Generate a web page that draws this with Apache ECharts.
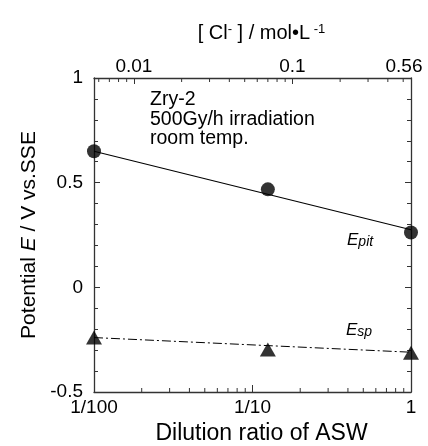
<!DOCTYPE html>
<html>
<head>
<meta charset="utf-8">
<script src="https://cdn.jsdelivr.net/npm/echarts@6/dist/echarts.min.js"></script>
<style>
html,body{margin:0;padding:0;background:#fff;}
#chart{width:428px;height:446px;}
</style>
</head>
<body>
<div id="chart"></div>
<script>
// ---- data ----
const dilution = [0.01, 0.125, 1];
const Epit = [0.65, 0.468, 0.262];
const Esp = [-0.24, -0.297, -0.313];
// fitted trend lines (endpoints)
const EpitFitX = [0.01, 1];
const EpitFitY = [0.65, 0.275];
const EspFitX = [0.01, 1];
const EspFitY = [-0.24, -0.31];
// axis ticks / labels
const bottomTickLabels = {0.01: '1/100', 0.1: '1/10', 1: '1'};
const topTickLabels = [0.01, 0.1, 0.56];
const bottomMinorTicks = [0.02,0.03,0.04,0.05,0.06,0.07,0.08,0.09,0.2,0.3,0.4,0.5,0.6,0.7,0.8,0.9];
const topMinorTicks = [0.006,0.007,0.008,0.009,0.02,0.03,0.04,0.05,0.06,0.07,0.08,0.09,0.2,0.3,0.4,0.5];
const yMin = -0.5, yMax = 1, yInterval = 0.5;
const clMin = 0.0056, clMax = 0.56;

const FONT = '"Liberation Sans", Arial, Helvetica, sans-serif';
const AX = '#333';

const chart = echarts.init(document.getElementById('chart'), null, {renderer: 'canvas'});

function minorTickSeries(xIdx, values, yVal, dir) {
  return {
    type: 'custom',
    coordinateSystem: 'cartesian2d',
    xAxisIndex: xIdx,
    yAxisIndex: 0,
    silent: true,
    clip: false,
    z: 5,
    data: values.map(v => [v, yVal]),
    renderItem: function (params, api) {
      const p = api.coord([api.value(0), api.value(1)]);
      return {
        type: 'line',
        shape: {x1: p[0], y1: p[1], x2: p[0], y2: p[1] + dir * 4},
        style: {stroke: AX, lineWidth: 1}
      };
    }
  };
}

const option = {
  backgroundColor: '#fff',
  animation: false,
  textStyle: {fontFamily: FONT, color: '#000'},
  grid: {left: 94, right: 17, top: 78, bottom: 54, containLabel: false, outerBoundsMode: 'none'},
  xAxis: [
    {
      type: 'log', logBase: 10, min: 0.01, max: 1, position: 'bottom',
      axisLine: {show: true, onZero: false, lineStyle: {color: AX, width: 1.3}},
      axisTick: {show: true, inside: true, length: 7, lineStyle: {color: AX, width: 1}},
      axisLabel: {
        show: true, margin: 6, fontSize: 19, fontFamily: FONT, color: '#000',
        showMinLabel: true, showMaxLabel: true,
        formatter: function (v) { const r = +(+v).toPrecision(3); return bottomTickLabels[r] || ''; }
      },
      splitLine: {show: false},
      name: 'Dilution ratio of ASW', nameLocation: 'middle', nameGap: 28,
      nameTextStyle: {fontSize: 23, fontFamily: FONT, color: '#000', padding: [0, 0, 0, 18]}
    },
    {
      type: 'log', logBase: 10, min: clMin, max: clMax, position: 'top',
      axisLine: {show: true, onZero: false, lineStyle: {color: AX, width: 1.3}},
      axisTick: {show: true, inside: true, length: 6, lineStyle: {color: AX, width: 1},
        interval: function (i, v) { const r = +(+v).toPrecision(2); return r === 0.01 || r === 0.1; }},
      axisLabel: {
        show: true, margin: 2, fontSize: 19, fontFamily: FONT, color: '#000',
        showMinLabel: true, showMaxLabel: true,
        formatter: function (v) {
          const r = +(+v).toPrecision(2);
          if (r === 0.56) return '{r|0.56}';
          return topTickLabels.indexOf(r) >= 0 ? String(r) : '';
        },
        rich: {r: {fontSize: 19, fontFamily: FONT, color: '#000', padding: [0, 14, 0, 0]}}
      },
      splitLine: {show: false},
      name: '[ Cl{sup|-} ] / mol•L{sup| -1}', nameLocation: 'middle', nameGap: 34,
      nameTextStyle: {
        fontSize: 20, fontFamily: FONT, color: '#000', padding: [0, 0, 0, 18],
        rich: {sup: {fontSize: 13, fontFamily: FONT, color: '#000', verticalAlign: 'top', padding: [0, 0, 8, 0]}}
      }
    }
  ],
  yAxis: [
    {
      type: 'value', min: yMin, max: yMax, interval: yInterval, position: 'left',
      axisLine: {show: true, onZero: false, lineStyle: {color: AX, width: 1.3}},
      axisTick: {show: true, inside: true, length: 6, lineStyle: {color: AX, width: 1}},
      minorTick: {show: true, splitNumber: 5, length: 4, lineStyle: {color: AX, width: 1}},
      axisLabel: {show: true, margin: 11, fontSize: 19, fontFamily: FONT, color: '#000'},
      splitLine: {show: false},
      name: 'Potential {i|E} / V vs.SSE', nameLocation: 'middle', nameGap: 38, nameRotate: 90,
      nameTextStyle: {
        fontSize: 21, fontFamily: FONT, color: '#000',
        rich: {i: {fontSize: 21, fontFamily: FONT, fontStyle: 'italic', color: '#000'}}
      }
    },
    {
      type: 'value', min: yMin, max: yMax, interval: yInterval, position: 'right',
      axisLine: {show: true, onZero: false, lineStyle: {color: AX, width: 1.3}},
      axisTick: {show: true, inside: true, length: 6, lineStyle: {color: AX, width: 1}},
      minorTick: {show: true, splitNumber: 5, length: 4, lineStyle: {color: AX, width: 1}},
      axisLabel: {show: false},
      splitLine: {show: false}
    }
  ],
  series: [
    {
      type: 'line', xAxisIndex: 0, yAxisIndex: 0, symbol: 'none', silent: true, z: 3,
      data: EpitFitX.map((x, i) => [x, EpitFitY[i]]),
      lineStyle: {color: '#000', width: 1.1, type: 'solid'}
    },
    {
      type: 'line', xAxisIndex: 0, yAxisIndex: 0, symbol: 'none', silent: true, z: 3,
      data: EspFitX.map((x, i) => [x, EspFitY[i]]),
      lineStyle: {color: '#000', width: 1, type: [9, 3, 2, 3]}
    },
    {
      type: 'scatter', xAxisIndex: 0, yAxisIndex: 0, symbol: 'circle', symbolSize: 14, z: 4, clip: false,
      itemStyle: {color: '#000'},
      data: dilution.map((x, i) => [x, Epit[i]])
    },
    {
      type: 'scatter', xAxisIndex: 0, yAxisIndex: 0, symbol: 'triangle', symbolSize: [16, 14], z: 4, clip: false,
      itemStyle: {color: '#000'},
      data: dilution.map((x, i) => [x, Esp[i]])
    },
    minorTickSeries(0, bottomMinorTicks, yMin, -1),
    minorTickSeries(1, topMinorTicks, yMax, 1)
  ],
  graphic: [
    {
      type: 'text', left: 150, top: 90, z: 10,
      style: {text: 'Zry-2\n500Gy/h irradiation\nroom temp.', font: '19.5px ' + FONT, fill: '#000', lineHeight: 19.5}
    },
    {
      type: 'text', left: 347, top: 232, z: 10,
      style: {
        text: '{E|E}{s|pit}', fill: '#000',
        rich: {E: {font: 'italic 17px ' + FONT, fill: '#000'}, s: {font: 'italic 14px ' + FONT, fill: '#000', padding: [4, 0, 0, 0]}}
      }
    },
    {
      type: 'text', left: 346, top: 322, z: 10,
      style: {
        text: '{E|E}{s|sp}', fill: '#000',
        rich: {E: {font: 'italic 17px ' + FONT, fill: '#000'}, s: {font: 'italic 14px ' + FONT, fill: '#000', padding: [4, 0, 0, 0]}}
      }
    }
  ]
};
chart.setOption(option);
</script>
</body>
</html>
